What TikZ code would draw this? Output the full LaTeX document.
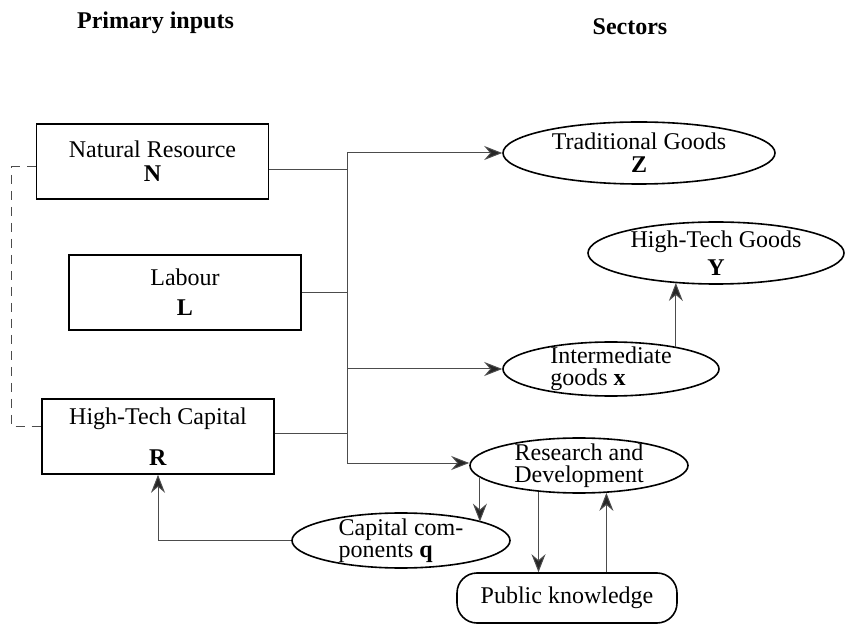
\documentclass[tikz,border=0pt]{standalone}
\usepackage{fontspec}
\setmainfont{Liberation Serif}
\usetikzlibrary{shapes.geometric,arrows.meta}

\tikzset{
  input/.style={draw, line width=0.8pt, rectangle, minimum width=116pt, minimum height=37.5pt, align=center, inner sep=0pt},
  sector/.style={draw, line width=0.8pt, ellipse, align=center, inner xsep=0pt, inner ysep=-1.5pt},
  link/.style={draw=black!70, line width=0.5pt},
  flow/.style={link, -{Stealth[length=9pt,width=7pt,inset=3pt,fill=black!85]}},
  dashlink/.style={link, dash pattern=on 4.5pt off 3.5pt},
  heading/.style={font=\fontsize{12}{14}\selectfont\bfseries, anchor=base}
}

\begin{document}
\begin{tikzpicture}[x=0.5pt,y=-0.5pt,font=\fontsize{12}{10}\selectfont]
\useasboundingbox (0,0) rectangle (850,624);
\node[heading] (pin) at (155.5,29) {Primary inputs};
\node[heading] (sec) at (630,34.5) {Sectors};

\node[input] (nat) at (152.5,161.5) {Natural Resource\\[2pt]\textbf{N}};
\node[input] (lab) at (185,292.5) {Labour\\[5pt]\textbf{L}};
\node[input] (cap) at (158,436.5) {High-Tech Capital\\[9pt]\textbf{R}};

\node[sector, minimum width=136pt, minimum height=31pt] (trad) at (639,153) {Traditional Goods\\[1.5pt]\textbf{Z}};
\node[sector, minimum width=128pt, minimum height=31pt] (hty) at (716,253) {High-Tech Goods\\[2.5pt]\textbf{Y}};
\node[sector, minimum width=108pt, minimum height=27pt, align=left] (inter) at (611,369) {Intermediate\\[1pt]goods \textbf{x}};
\node[sector, minimum width=109pt, minimum height=27.5pt] (rd) at (579,465.5) {Research and\\[1pt]Development};
\node[sector, minimum width=109pt, minimum height=27.5pt, align=left] (cc) at (401,540.5) {Capital com-\\[1pt]ponents \textbf{q}};
\node[draw, line width=0.8pt, rounded corners=10pt, minimum width=110pt, minimum height=25pt] (pk) at (567,598) {Public knowledge};

\coordinate (ttop) at (347,153);
\coordinate (tbot) at (347,463);
\coordinate (jn) at (347,170);
\coordinate (jl) at (347,293);
\coordinate (ji) at (347,369);
\coordinate (jc) at (347,434);

\draw[link] (ttop) -- (tbot);
\draw[link] (nat.east |- jn) -- (jn);
\draw[link] (lab.east |- jl) -- (jl);
\draw[link] (cap.east |- jc) -- (jc);
\draw[flow] (ttop) -- (trad.west);
\draw[flow] (ji) -- (inter.west);
\draw[flow] (tbot) -- (tbot -| rd.west);
\draw[flow] (inter.19) -- (inter.19 |- hty.215);
\draw[flow] (rd.187) -- (rd.187 |- cc.13);
\draw[flow] (rd.213) -- (rd.213 |- pk.north);
\draw[flow] (pk.north -| rd.315) -- (rd.315);
\draw[flow] (cc.west) -| (cap.south);
\draw[dashlink] ([yshift=-2.75pt]nat.west) -- ++(-24,0) |- ([yshift=4.75pt]cap.west);
\end{tikzpicture}
\end{document}
